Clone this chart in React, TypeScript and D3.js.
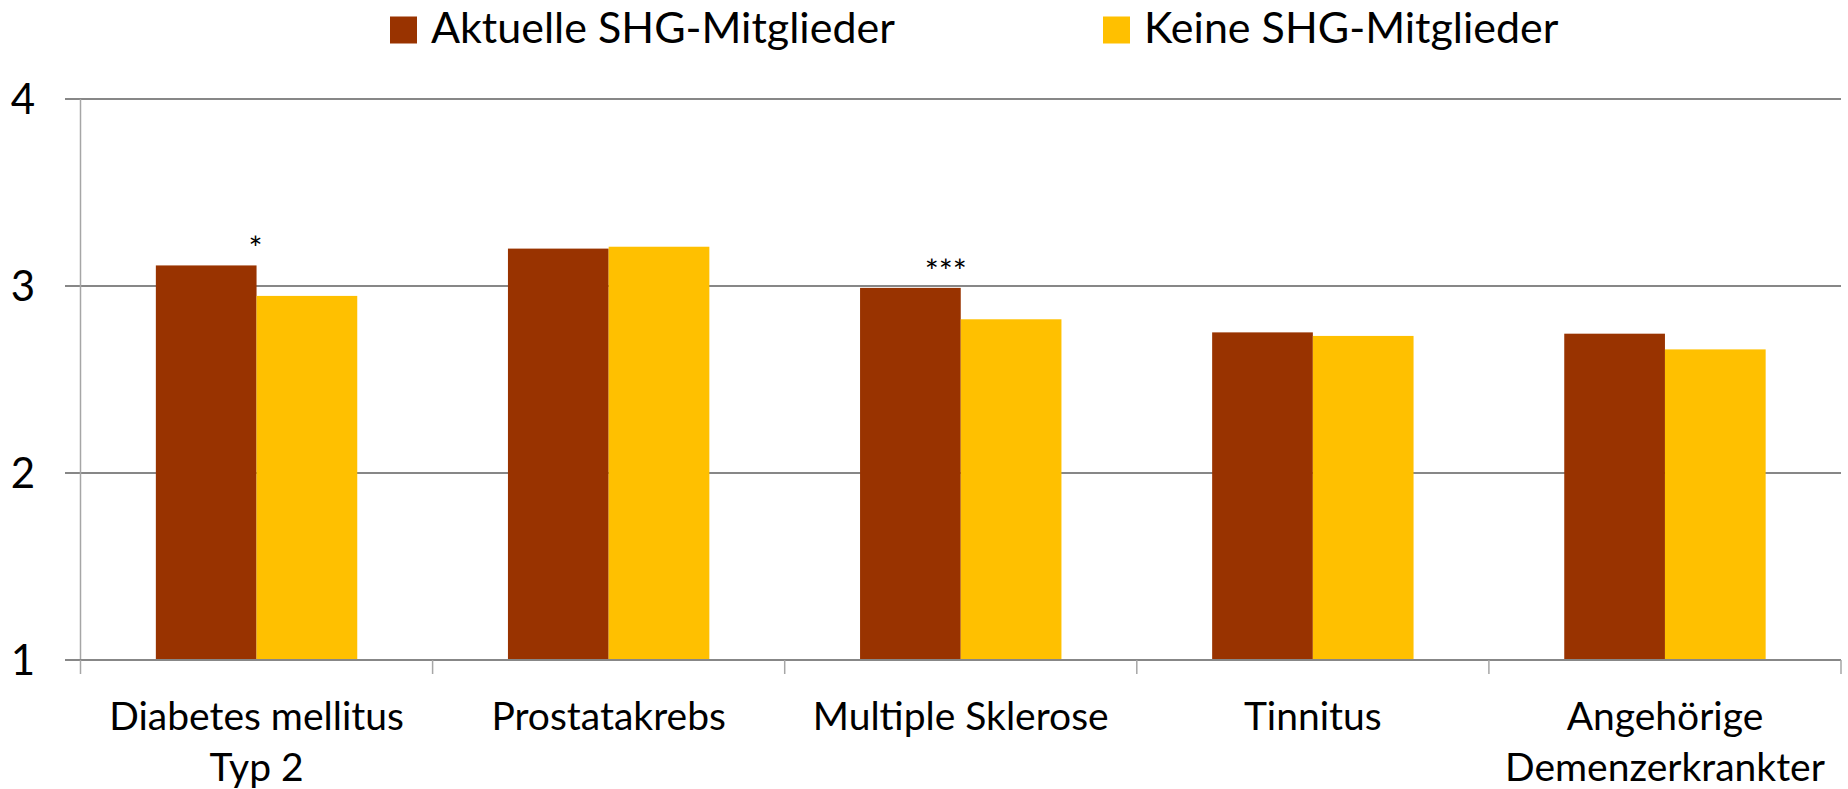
import React from 'react';
import * as d3 from 'd3';

const categoryLabels = ['Diabetes mellitus\nTyp 2', 'Prostatakrebs', 'Multiple Sklerose', 'Tinnitus', 'Angehörige\nDemenzerkrankter'];
const seriesNames = ['Aktuelle SHG-Mitglieder', 'Keine SHG-Mitglieder'];
const aktuelleValues = [3.11, 3.2, 2.99, 2.752, 2.745];
const keineValues = [2.947, 3.21, 2.822, 2.733, 2.661];
const significance = ['*', '', '***', '', ''];
const yTicks = [1, 2, 3, 4];

const W = 1848;
const H = 789;
const colors = ['#993300', '#FFC000'];
const FONT = 'Lato, "Open Sans", sans-serif';

export default function App() {
  const left = 80.5;
  const right = 1841;
  const x = d3
    .scaleBand<number>()
    .domain(d3.range(categoryLabels.length))
    .range([left, right])
    .paddingInner(0.428)
    .paddingOuter(0.214);
  const xs = d3.scaleBand<number>().domain([0, 1]).range([0, x.bandwidth()]).padding(0);
  const y = d3.scaleLinear().domain([1, 4]).range([660, 99]);
  const series = [aktuelleValues, keineValues];
  const step = x.step();
  const boundaries = d3.range(categoryLabels.length + 1).map((i) => left + i * step);
  const legendX = [390, 1103];

  return (
    <div style={{ position: 'absolute', left: 0, top: 0 }}>
      <svg width={W} height={H} style={{ display: 'block', background: '#fff' }}>
        {yTicks.map((t) => (
          <line key={'g' + t} x1={65} x2={right} y1={y(t)} y2={y(t)} stroke="#878787" strokeWidth={2} />
        ))}
        <line x1={left} x2={left} y1={y(4)} y2={y(1)} stroke="#a6a6a6" strokeWidth={1.5} />
        {series.map((vals, si) =>
          vals.map((v, ci) => (
            <rect
              key={`b${si}-${ci}`}
              x={(x(ci) as number) + (xs(si) as number)}
              y={y(v)}
              width={xs.bandwidth()}
              height={y(1) - y(v)}
              fill={colors[si]}
            />
          ))
        )}
        <line x1={65} x2={right} y1={y(1)} y2={y(1)} stroke="#878787" strokeWidth={2} />
        {boundaries.map((bx, i) => (
          <line key={'t' + i} x1={bx} x2={bx} y1={y(1)} y2={y(1) + 14} stroke="#a6a6a6" strokeWidth={1.5} />
        ))}
        {yTicks.map((t) => (
          <text key={'yl' + t} x={35} y={y(t)} dy="0.36em" textAnchor="end" fontFamily={FONT} fontSize={42} fill="#000">
            {t}
          </text>
        ))}
        {categoryLabels.map((lab, ci) => (
          <text
            key={'c' + ci}
            x={(x(ci) as number) + x.bandwidth() / 2}
            y={730}
            textAnchor="middle"
            fontFamily={FONT}
            fontSize={39}
            fill="#000"
          >
            {lab.split('\n').map((ln, li) => (
              <tspan key={li} x={(x(ci) as number) + x.bandwidth() / 2} dy={li === 0 ? 0 : 51}>
                {ln}
              </tspan>
            ))}
          </text>
        ))}
        {significance.map((s, ci) =>
          s ? (
            <text
              key={'s' + ci}
              x={(x(ci) as number) + x.bandwidth() / 2 + 6}
              y={y(Math.max(aktuelleValues[ci], keineValues[ci])) - 5}
              textAnchor="end"
              fontFamily={FONT}
              fontSize={33}
              fill="#000"
            >
              {s}
            </text>
          ) : null
        )}
        {seriesNames.map((n, si) => (
          <g key={'l' + si}>
            <rect x={legendX[si]} y={16.5} width={27} height={27} fill={colors[si]} />
            <text x={legendX[si] + 41} y={43} fontFamily={FONT} fontSize={43} fill="#000">
              {n}
            </text>
          </g>
        ))}
      </svg>
    </div>
  );
}
